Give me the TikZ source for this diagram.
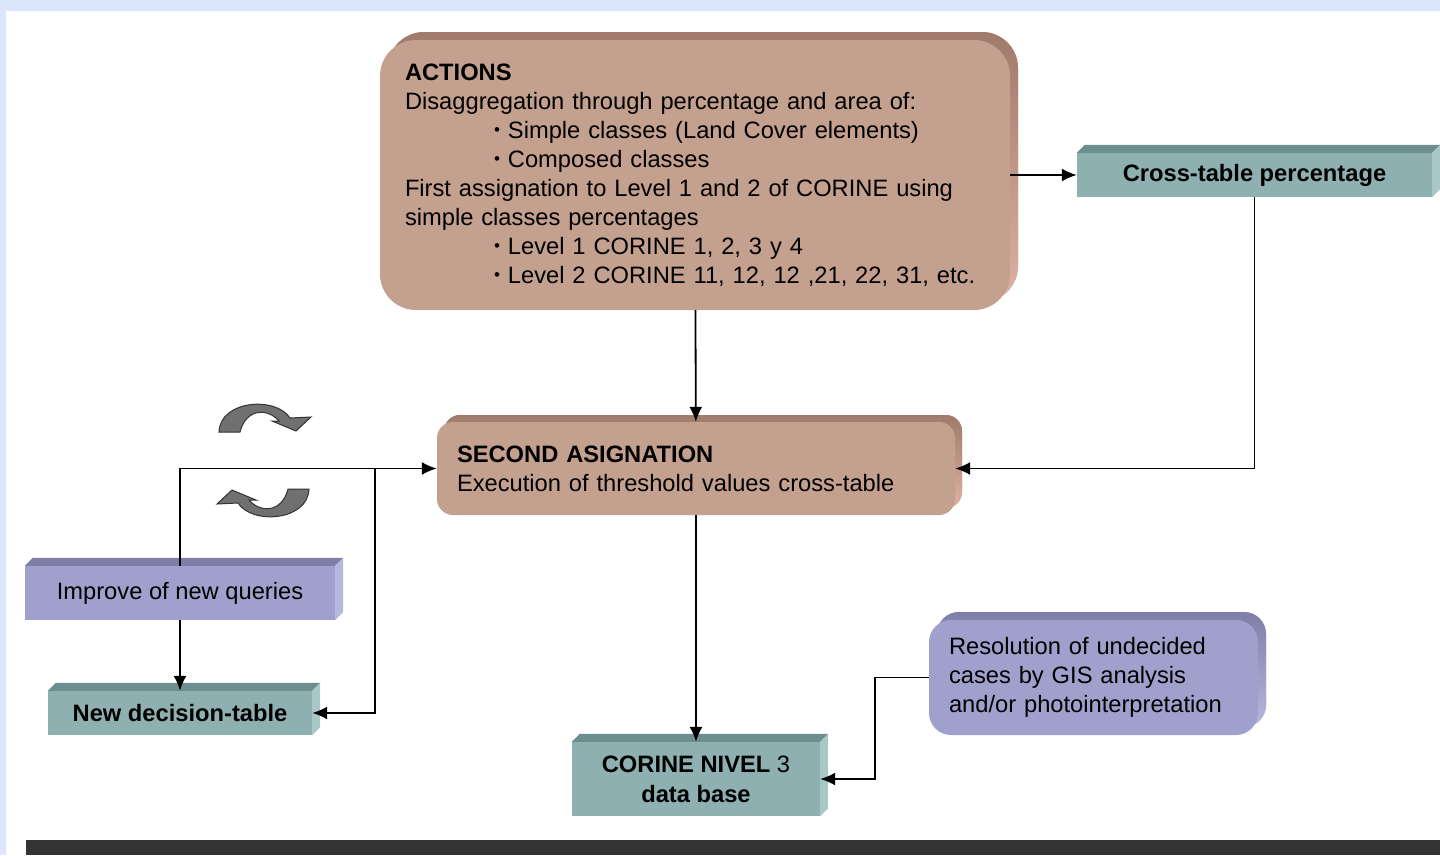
\documentclass[tikz,border=0pt]{standalone}
\usepackage{fontspec}
\setmainfont{Liberation Sans}
\usepackage{tikz}
\usetikzlibrary{calc}
\usetikzlibrary{arrows.meta}
\usetikzlibrary{shadows}
\definecolor{frameblue}{HTML}{DBE5FB}
\definecolor{clay}{HTML}{C4A08E}
\definecolor{claytop}{HTML}{A07A6A}
\definecolor{clayside}{HTML}{DDB2A2}
\definecolor{teal}{HTML}{8EB0B0}
\definecolor{tealtop}{HTML}{6C8E8E}
\definecolor{tealside}{HTML}{A8C8C8}
\definecolor{lilac}{HTML}{A0A0CC}
\definecolor{lilactop}{HTML}{7E7EA8}
\definecolor{lilacside}{HTML}{B8B8DE}
\tikzstyle{flow} = [-{Latex[length=15pt, width=13pt]}, line width = 1.8pt]
\tikzstyle{slab} = [rectangle, inner sep = 0, align = center]
\tikzstyle{roundbox} = [rectangle, align = left, inner ysep = 0]
\tikzstyle{turn} = [fill = black!56, draw = black!80, line width = 1pt]
% top and side faces of a flat box
\newcommand{\slabfaces}[3]{%
  \fill [#2] (#1.north west) -- ++(8,-8) -- ($(#1.north east)+(8,-8)$) -- (#1.north east) -- cycle;
  \fill [#3] (#1.north east) -- ++(8,-8) -- ($(#1.south east)+(8,-8)$) -- (#1.south east) -- cycle;
}
\newcommand{\dotitem}{\hspace*{89pt}\raisebox{3pt}{\fontsize{17}{17}\selectfont •}\hspace{8pt}}

\begin{document}
\begin{tikzpicture}[x = 1pt, y = -1pt, font = \fontsize{23.7}{29}\selectfont]
\useasboundingbox (0, 0) rectangle (1440, 855);
\fill [frameblue] (0, 0) rectangle (1440, 855);
\fill [white] (6, 11) rectangle (1440, 855);
\fill [black!80] (26, 840) rectangle (1440, 855);

\node [roundbox, fill = clay, rounded corners = 36, minimum width = 630, minimum height = 270, text width = 580, inner xsep = 25,
  copy shadow = {shadow xshift = 8pt, shadow yshift = 8pt, top color = claytop, bottom color = clayside, draw = none}]
  (actions) at (695, 175) {\textbf{ACTIONS}\\
  Disaggregation through percentage and area of:\\
  \dotitem Simple classes (Land Cover elements)\\
  \dotitem Composed classes\\
  First assignation to Level 1 and 2 of CORINE using\\
  simple classes percentages\\
  \dotitem Level 1 CORINE 1, 2, 3 y 4\\
  \dotitem Level 2 CORINE 11, 12, 12 ,21, 22, 31, etc.};
\node [roundbox, fill = clay, rounded corners = 16, minimum width = 518, minimum height = 93, text width = 478, inner xsep = 20,
  copy shadow = {shadow xshift = 7pt, shadow yshift = 7pt, top color = claytop, bottom color = clayside, draw = none}]
  (second) at (696, 468.5) {\textbf{SECOND ASIGNATION}\\Execution of threshold values cross-table};
\node [roundbox, fill = lilac, rounded corners = 22, minimum width = 329, minimum height = 115, text width = 289, inner xsep = 20,
  copy shadow = {shadow xshift = 8pt, shadow yshift = 8pt, top color = lilactop, bottom color = lilacside, draw = none}]
  (resolve) at (1093.5, 677.5) {Resolution of undecided\\cases by GIS analysis\\and/or photointerpretation};

\node [slab, fill = teal, minimum width = 355, minimum height = 44] (crosspct) at (1254.5, 175) {\textbf{Cross-table percentage}};
\node [slab, fill = lilac, minimum width = 310, minimum height = 54] (improve) at (180, 593) {Improve of new queries};
\node [slab, fill = teal, minimum width = 264, minimum height = 44] (newtable) at (180, 713) {\textbf{New decision-table}};
\node [slab, fill = teal, minimum width = 248, minimum height = 74, font = \fontsize{23.7}{30}\selectfont] (corine) at (696, 779)
  {\textbf{CORINE NIVEL} 3\\\textbf{data base}};
\slabfaces{crosspct}{tealtop}{tealside}
\slabfaces{improve}{lilactop}{lilacside}
\slabfaces{newtable}{tealtop}{tealside}
\slabfaces{corine}{tealtop}{tealside}

\coordinate (split) at (375, 468.5);
\draw [flow] (actions) to (crosspct);
\draw [flow] (actions) to (second);
\draw [flow] (crosspct.south) |- (second.east);
\draw [flow] (second) to (corine);
\draw [flow] (resolve.west) -- ++(-54, 0) |- (corine.east);
\draw [flow] (improve.north) |- (second.west);
\draw [flow] (improve) to (newtable);
\draw [flow] (split) |- (newtable.east);

% the two turning arrows
\filldraw [turn] (219, 432) .. controls (220, 400) and (276, 396) .. (290, 418) -- (311, 417) -- (296, 431)
  -- (272, 421) -- (279, 421) .. controls (268, 408) and (246, 408) .. (240, 432) -- cycle;
\begin{scope}[rotate around = {180:(264, 460.5)}]
\filldraw [turn] (219, 432) .. controls (220, 400) and (276, 396) .. (290, 418) -- (311, 417) -- (296, 431)
  -- (272, 421) -- (279, 421) .. controls (268, 408) and (246, 408) .. (240, 432) -- cycle;
\end{scope}
\end{tikzpicture}
\end{document}
